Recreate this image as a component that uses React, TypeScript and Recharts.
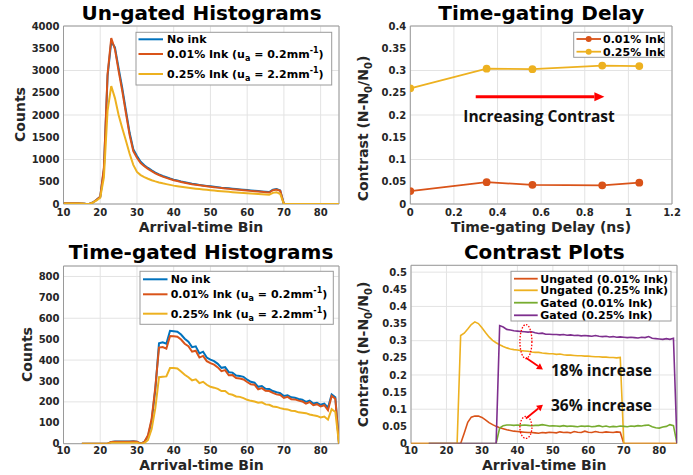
import React from 'react';
import { LineChart, Line, XAxis, YAxis, CartesianGrid, ReferenceArea, ReferenceLine, ReferenceDot } from 'recharts';

// ---------- colours ----------
const BLUE = '#0072BD';
const ORANGE = '#D95319';
const YELLOW = '#EDB120';
const GREEN = '#77AC30';
const PURPLE = '#7E2F8E';

// ---------- Panel 1: Un-gated histograms (bins 10..85) ----------
const ungatedBins = [10, 11, 12, 13, 14, 15, 16, 17, 18, 19, 20, 21, 22, 23, 24, 25, 26, 27, 28, 29, 30, 31, 32, 33, 34, 35, 36, 37, 38, 39, 40, 41, 42, 43, 44, 45, 46, 47, 48, 49, 50, 51, 52, 53, 54, 55, 56, 57, 58, 59, 60, 61, 62, 63, 64, 65, 66, 67, 68, 69, 70, 71, 72, 73, 74, 75, 76, 77, 78, 79, 80, 81, 82, 83, 84, 85];
const ungatedNoInk = [15, 15, 15, 15, 15, 12, 3, 0, 35, 95, 160, 780, 2880, 3650, 3520, 3050, 2600, 2100, 1600, 1230, 1080, 950, 870, 810, 755, 705, 665, 630, 600, 572, 548, 528, 508, 490, 472, 455, 442, 430, 418, 407, 397, 387, 378, 368, 360, 352, 344, 336, 328, 320, 312, 305, 298, 290, 282, 275, 268, 322, 335, 305, 0, 0, 0, 0, 0, 0, 0, 0, 0, 0, 0, 0, 0, 0, 0, 0];
const ungatedInk001 = [15, 15, 15, 15, 15, 12, 3, 0, 35, 95, 165, 820, 2920, 3730, 3480, 2990, 2540, 2040, 1550, 1190, 1040, 920, 850, 790, 738, 690, 652, 615, 588, 560, 535, 515, 496, 478, 461, 445, 432, 420, 408, 397, 387, 378, 368, 359, 350, 342, 334, 326, 318, 310, 302, 295, 288, 281, 273, 266, 258, 310, 325, 295, 0, 0, 0, 0, 0, 0, 0, 0, 0, 0, 0, 0, 0, 0, 0, 0];
const ungatedInk025 = [12, 12, 12, 12, 12, 10, 2, 0, 30, 80, 140, 600, 2100, 2650, 2380, 2000, 1700, 1420, 1130, 880, 720, 650, 605, 568, 535, 508, 485, 465, 447, 430, 413, 400, 388, 377, 366, 355, 345, 336, 327, 318, 310, 302, 294, 287, 280, 273, 266, 260, 254, 248, 242, 237, 232, 227, 221, 215, 208, 250, 265, 225, 0, 0, 0, 0, 0, 0, 0, 0, 0, 0, 0, 0, 0, 0, 0, 0];

// ---------- Panel 2: Time-gating delay ----------
const delaysNs = [0, 0.35, 0.56, 0.88, 1.05];
const delayContrast001 = [0.029, 0.049, 0.043, 0.042, 0.048];
const delayContrast025 = [0.26, 0.304, 0.303, 0.311, 0.31];

// ---------- Panel 3: Time-gated histograms (bins 15..85) ----------
const gatedBins = [15, 16, 17, 18, 19, 20, 21, 22, 23, 24, 25, 26, 27, 28, 29, 30, 31, 32, 33, 34, 35, 36, 37, 38, 39, 40, 41, 42, 43, 44, 45, 46, 47, 48, 49, 50, 51, 52, 53, 54, 55, 56, 57, 58, 59, 60, 61, 62, 63, 64, 65, 66, 67, 68, 69, 70, 71, 72, 73, 74, 75, 76, 77, 78, 79, 80, 81, 82, 83, 84, 85];
const gatedNoInk = [0, 0, 0, 0, 0, 0, 0, 0, 8, 10, 10, 10, 10, 10, 12, 10, 0, 8, 35, 110, 260, 480, 485, 478, 540, 538, 536, 522, 502, 488, 462, 466, 432, 440, 412, 402, 395, 382, 363, 366, 342, 340, 326, 324, 320, 306, 296, 292, 272, 276, 263, 262, 252, 246, 242, 228, 232, 222, 220, 214, 210, 200, 206, 192, 196, 186, 192, 172, 236, 222, 0];
const gatedInk001 = [0, 0, 0, 0, 0, 0, 0, 0, 8, 9, 9, 9, 9, 9, 10, 9, 0, 8, 40, 120, 270, 460, 462, 455, 515, 514, 512, 498, 478, 466, 440, 445, 412, 420, 395, 385, 378, 365, 347, 352, 327, 328, 314, 312, 307, 295, 284, 282, 260, 266, 253, 252, 243, 236, 233, 219, 224, 213, 212, 206, 202, 192, 199, 184, 189, 178, 184, 160, 228, 215, 0];
const gatedInk025 = [0, 0, 0, 0, 0, 0, 0, 0, 5, 5, 5, 5, 5, 5, 5, 5, 0, 3, 18, 70, 170, 318, 320, 322, 362, 362, 360, 345, 330, 318, 303, 308, 290, 296, 282, 272, 268, 262, 252, 252, 238, 234, 226, 224, 218, 210, 205, 202, 196, 198, 188, 186, 178, 176, 170, 166, 164, 158, 156, 150, 148, 146, 140, 136, 133, 126, 130, 115, 165, 152, 0];

// ---------- Panel 4: Contrast plots (bins 10..85) ----------
const contrastBins = ungatedBins;
const ungatedContrast001 = [0, 0, 0, 0, 0, 0, 0, 0, 0, 0, 0, 0, 0, 0, 0, 0.03, 0.062, 0.077, 0.08, 0.08, 0.076, 0.069, 0.061, 0.055, 0.05, 0.046, 0.043, 0.04, 0.038, 0.036, 0.035, 0.034, 0.033, 0.032, 0.032, 0.031, 0.03, 0.032, 0.031, 0.033, 0.032, 0.031, 0.034, 0.032, 0.033, 0.031, 0.035, 0.033, 0.032, 0.036, 0.033, 0.032, 0.035, 0.033, 0.032, 0.034, 0.033, 0.032, 0.034, 0.033, 0, 0, 0, 0, 0, 0, 0, 0, 0, 0, 0, 0, 0, 0, 0, 0];
const ungatedContrast025 = [0, 0, 0, 0, 0, 0, 0, 0, 0, 0, 0, 0, 0, 0, 0.315, 0.322, 0.334, 0.347, 0.355, 0.35, 0.338, 0.324, 0.311, 0.301, 0.294, 0.288, 0.283, 0.279, 0.276, 0.274, 0.273, 0.271, 0.27, 0.269, 0.267, 0.266, 0.266, 0.264, 0.263, 0.262, 0.262, 0.26, 0.261, 0.259, 0.258, 0.258, 0.257, 0.256, 0.256, 0.255, 0.255, 0.254, 0.253, 0.253, 0.252, 0.252, 0.251, 0.251, 0.25, 0.251, 0, 0, 0, 0, 0, 0, 0, 0, 0, 0, 0, 0, 0, 0, 0, 0];
const gatedContrast001 = [null, null, null, null, null, 0, 0, 0, 0, 0, 0, 0, 0, 0, 0, 0, 0, 0, 0, 0, 0, 0, 0, 0, 0, 0.045, 0.052, 0.054, 0.054, 0.053, 0.054, 0.053, 0.054, 0.053, 0.052, 0.053, 0.053, 0.055, 0.053, 0.051, 0.052, 0.051, 0.05, 0.052, 0.05, 0.051, 0.05, 0.049, 0.051, 0.05, 0.051, 0.049, 0.05, 0.052, 0.049, 0.051, 0.048, 0.05, 0.049, 0.051, 0.05, 0.049, 0.051, 0.05, 0.052, 0.051, 0.053, 0.054, 0.049, 0.046, 0.045, 0.048, 0.05, 0.055, 0.052, 0];
const gatedContrast025 = [null, null, null, null, null, 0, 0, 0, 0, 0, 0, 0, 0, 0, 0, 0, 0, 0, 0, 0, 0, 0, 0, 0, 0, 0.344, 0.34, 0.333, 0.331, 0.329, 0.328, 0.327, 0.326, 0.325, 0.326, 0.323, 0.321, 0.322, 0.319, 0.319, 0.318, 0.318, 0.317, 0.318, 0.316, 0.317, 0.315, 0.316, 0.314, 0.315, 0.314, 0.313, 0.315, 0.313, 0.312, 0.313, 0.311, 0.312, 0.31, 0.311, 0.31, 0.309, 0.31, 0.309, 0.308, 0.31, 0.309, 0.312, 0.307, 0.306, 0.305, 0.304, 0.306, 0.304, 0.307, 0];

// ---------- ticks ----------
const binTicks = [10, 20, 30, 40, 50, 60, 70, 80];
const countTicks1 = [0, 500, 1000, 1500, 2000, 2500, 3000, 3500, 4000];
const countTicks3 = [0, 100, 200, 300, 400, 500, 600, 700, 800];
const delayTicks = [0, 0.2, 0.4, 0.6, 0.8, 1, 1.2];
const contrastTicks2 = [0, 0.05, 0.1, 0.15, 0.2, 0.25, 0.3, 0.35, 0.4];
const contrastTicks4 = [0, 0.05, 0.1, 0.15, 0.2, 0.25, 0.3, 0.35, 0.4, 0.45, 0.5];

// ---------- tables ----------
const rows1 = ungatedBins.map((b, i) => ({ bin: b, noInk: ungatedNoInk[i], ink001: ungatedInk001[i], ink025: ungatedInk025[i] }));
const rows2 = delaysNs.map((d, i) => ({ delay: d, c001: delayContrast001[i], c025: delayContrast025[i] }));
const rows3 = gatedBins.map((b, i) => ({ bin: b, noInk: gatedNoInk[i], ink001: gatedInk001[i], ink025: gatedInk025[i] }));
const rows4 = contrastBins.map((b, i) => ({ bin: b, u001: ungatedContrast001[i], u025: ungatedContrast025[i], g001: gatedContrast001[i], g025: gatedContrast025[i] }));

const FONT = '"DejaVu Sans", Verdana, sans-serif';
const ANN_FONT = '"Open Sans", "Liberation Sans", sans-serif';
const tickStyle = { fill: '#262626', fontSize: 10, fontWeight: 700, fontFamily: FONT };
const GRID = '#e3e3e3';
const BOX = '#9a9a9a';

const Arrow = (p: any) => {
  const { x1, y1, x2, y2 } = p;
  const ang = Math.atan2(y2 - y1, x2 - x1);
  const L = p.head || 10;
  const W = p.headW || 4;
  const bx = x2 - L * Math.cos(ang);
  const by = y2 - L * Math.sin(ang);
  const px = -Math.sin(ang) * W;
  const py = Math.cos(ang) * W;
  return (
    <g>
      <line x1={x1} y1={y1} x2={bx} y2={by} stroke="#ff0000" strokeWidth={p.sw || 3} />
      <polygon points={`${x2},${y2} ${bx + px},${by + py} ${bx - px},${by - py}`} fill="#ff0000" />
    </g>
  );
};

const Ellipse = (rx: number, ry: number) => (p: any) => (
  <ellipse cx={p.cx} cy={p.cy} rx={rx} ry={ry} fill="none" stroke="#ff0000" strokeWidth={1.3} strokeDasharray="1.5 1.5" />
);

function Panel1() {
  return (
    <div style={{ position: 'absolute', left: 0, top: 0 }}>
      <LineChart width={346} height={237} data={rows1} margin={{ top: 26, right: 7, bottom: 0, left: 0 }}>
        <CartesianGrid stroke={GRID} />
        <XAxis type="number" dataKey="bin" domain={[10, 85]} ticks={binTicks} height={33} tick={tickStyle} tickSize={0} tickMargin={5} axisLine={false} allowDataOverflow />
        <YAxis type="number" domain={[0, 4000]} ticks={countTicks1} width={63.5} tick={tickStyle} tickSize={0} tickMargin={4} axisLine={false} allowDataOverflow />
        <ReferenceArea x1={10} x2={85} y1={0} y2={4000} fill="none" stroke={BOX} strokeWidth={1} />
        <Line dataKey="noInk" stroke={BLUE} strokeWidth={2} dot={false} isAnimationActive={false} />
        <Line dataKey="ink001" stroke={ORANGE} strokeWidth={2} dot={false} isAnimationActive={false} />
        <Line dataKey="ink025" stroke={YELLOW} strokeWidth={2} dot={false} isAnimationActive={false} />
      </LineChart>
    </div>
  );
}

function Panel2() {
  return (
    <div style={{ position: 'absolute', left: 346, top: 0 }}>
      <LineChart width={347} height={237} data={rows2} margin={{ top: 26, right: 21, bottom: 0, left: 0 }}>
        <CartesianGrid stroke={GRID} />
        <XAxis type="number" dataKey="delay" domain={[0, 1.2]} ticks={delayTicks} height={33} tick={tickStyle} tickSize={0} tickMargin={5} axisLine={false} allowDataOverflow />
        <YAxis type="number" domain={[0, 0.4]} ticks={contrastTicks2} width={64.3} tick={tickStyle} tickSize={0} tickMargin={4} axisLine={false} allowDataOverflow />
        <ReferenceArea x1={0} x2={1.2} y1={0} y2={0.4} fill="none" stroke={BOX} strokeWidth={1} />
        <Line dataKey="c001" stroke={ORANGE} strokeWidth={1.8} dot={{ r: 3, fill: ORANGE, stroke: ORANGE }} isAnimationActive={false} />
        <Line dataKey="c025" stroke={YELLOW} strokeWidth={1.8} dot={{ r: 3, fill: YELLOW, stroke: YELLOW }} isAnimationActive={false} />
        <ReferenceLine segment={[{ x: 0.3, y: 0.241 }, { x: 0.89, y: 0.241 }]} shape={(p: any) => <Arrow {...p} head={10} headW={4.5} sw={3} />} />
      </LineChart>
    </div>
  );
}

function Panel3() {
  return (
    <div style={{ position: 'absolute', left: 0, top: 237 }}>
      <LineChart width={346} height={238} data={rows3} margin={{ top: 29, right: 7, bottom: 0, left: 0 }}>
        <CartesianGrid stroke={GRID} />
        <XAxis type="number" dataKey="bin" domain={[10, 85]} ticks={binTicks} height={31.3} tick={tickStyle} tickSize={0} tickMargin={3} axisLine={false} allowDataOverflow />
        <YAxis type="number" domain={[0, 850]} ticks={countTicks3} width={63.5} tick={tickStyle} tickSize={0} tickMargin={4} axisLine={false} allowDataOverflow />
        <ReferenceArea x1={10} x2={85} y1={0} y2={850} fill="none" stroke={BOX} strokeWidth={1} />
        <Line dataKey="noInk" stroke={BLUE} strokeWidth={2} dot={false} isAnimationActive={false} />
        <Line dataKey="ink001" stroke={ORANGE} strokeWidth={2} dot={false} isAnimationActive={false} />
        <Line dataKey="ink025" stroke={YELLOW} strokeWidth={2} dot={false} isAnimationActive={false} />
      </LineChart>
    </div>
  );
}

function Panel4() {
  return (
    <div style={{ position: 'absolute', left: 346, top: 237 }}>
      <LineChart width={347} height={238} data={rows4} margin={{ top: 28.3, right: 16, bottom: 0, left: 0 }}>
        <CartesianGrid stroke={GRID} />
        <XAxis type="number" dataKey="bin" domain={[10, 85]} ticks={binTicks} height={31.5} tick={tickStyle} tickSize={0} tickMargin={3} axisLine={false} allowDataOverflow />
        <YAxis type="number" domain={[0, 0.52]} ticks={contrastTicks4} width={65} tick={tickStyle} tickSize={0} tickMargin={4} axisLine={false} allowDataOverflow />
        <ReferenceArea x1={10} x2={85} y1={0} y2={0.52} fill="none" stroke={BOX} strokeWidth={1} />
        <Line dataKey="u001" stroke={ORANGE} strokeWidth={1.6} dot={false} isAnimationActive={false} />
        <Line dataKey="u025" stroke={YELLOW} strokeWidth={1.6} dot={false} isAnimationActive={false} />
        <Line dataKey="g001" stroke={GREEN} strokeWidth={1.6} dot={false} isAnimationActive={false} />
        <Line dataKey="g025" stroke={PURPLE} strokeWidth={1.6} dot={false} isAnimationActive={false} />
        <ReferenceDot x={42.4} y={0.2975} r={1} shape={Ellipse(6, 17)} />
        <ReferenceDot x={42.4} y={0.047} r={1} shape={Ellipse(6, 11)} />
        <ReferenceLine segment={[{ x: 42.4, y: 0.25 }, { x: 47.2, y: 0.216 }]} shape={(p: any) => <Arrow {...p} head={6} headW={3.5} sw={1.8} />} />
        <ReferenceLine segment={[{ x: 42.4, y: 0.073 }, { x: 47.2, y: 0.113 }]} shape={(p: any) => <Arrow {...p} head={6} headW={3.5} sw={1.8} />} />
      </LineChart>
    </div>
  );
}

const titleStyle: any = { fontFamily: FONT, fontWeight: 700, fontSize: 20, fill: '#000', textAnchor: 'middle' };
const axisLabelStyle: any = { fontFamily: FONT, fontWeight: 700, fontSize: 14, fill: '#262626', textAnchor: 'middle' };
const legendText: any = { fontFamily: FONT, fontWeight: 700, fontSize: 11, fill: '#000' };
const annStyle: any = { fontFamily: ANN_FONT, fontWeight: 700, fontSize: 15.5, fill: '#111' };

const InkLabel = ({ pct, ua }: { pct: string; ua: string }) => (
  <>
    <tspan>{pct}% Ink (u</tspan>
    <tspan dy={3} fontSize={8}>a</tspan>
    <tspan dy={-3}> = {ua}mm</tspan>
    <tspan dy={-5} fontSize={8}>-1</tspan>
    <tspan dy={5}>)</tspan>
  </>
);

const histLegend = [
  { color: BLUE, text: 'No ink' },
  { color: ORANGE, pct: '0.01', ua: '0.2' },
  { color: YELLOW, pct: '0.25', ua: '2.2' },
];

function HistLegend({ x, y, w, h, rows, lineX1, lineX2, textX }: any) {
  return (
    <g>
      <rect x={x} y={y} width={w} height={h} fill="#fff" stroke={BOX} strokeWidth={1} />
      {histLegend.map((it: any, i: number) => (
        <g key={i}>
          <line x1={lineX1} x2={lineX2} y1={rows[i]} y2={rows[i]} stroke={it.color} strokeWidth={2} />
          <text x={textX} y={rows[i] + 4} style={legendText}>
            {it.text ? it.text : <InkLabel pct={it.pct} ua={it.ua} />}
          </text>
        </g>
      ))}
    </g>
  );
}

const delayLegend = [
  { color: ORANGE, text: '0.01% Ink' },
  { color: YELLOW, text: '0.25% Ink' },
];
const contrastLegend = [
  { color: ORANGE, text: 'Ungated (0.01% Ink)' },
  { color: YELLOW, text: 'Ungated (0.25% Ink)' },
  { color: GREEN, text: 'Gated (0.01% Ink)' },
  { color: PURPLE, text: 'Gated (0.25% Ink)' },
];

const ContrastLabel = ({ x, y }: { x: number; y: number }) => (
  <text x={x} y={y} transform={`rotate(-90, ${x}, ${y})`} style={axisLabelStyle}>
    <tspan>Contrast (N-N</tspan>
    <tspan dy={4} fontSize={10}>0</tspan>
    <tspan dy={-4}>/N</tspan>
    <tspan dy={4} fontSize={10}>0</tspan>
    <tspan dy={-4}>)</tspan>
  </text>
);

function Overlay() {
  return (
    <svg width={693} height={475} style={{ position: 'absolute', left: 0, top: 0, pointerEvents: 'none' }}>
      {/* titles */}
      <text x={201.5} y={19.5} style={titleStyle}>Un-gated Histograms</text>
      <text x={541.3} y={19.5} style={titleStyle}>Time-gating Delay</text>
      <text x={201} y={258.7} style={titleStyle}>Time-gated Histograms</text>
      <text x={544.3} y={258.7} style={titleStyle}>Contrast Plots</text>
      {/* axis labels */}
      <text x={201} y={231.5} style={axisLabelStyle}>Arrival-time Bin</text>
      <text x={541} y={231.5} style={axisLabelStyle}>Time-gating Delay (ns)</text>
      <text x={201.5} y={470} style={axisLabelStyle}>Arrival-time Bin</text>
      <text x={544.3} y={470} style={axisLabelStyle}>Arrival-time Bin</text>
      <text x={25} y={114.5} transform="rotate(-90, 25, 114.5)" style={axisLabelStyle}>Counts</text>
      <text x={32} y={354.5} transform="rotate(-90, 32, 354.5)" style={axisLabelStyle}>Counts</text>
      <ContrastLabel x={368} y={128.5} />
      <ContrastLabel x={368} y={354.5} />
      {/* legends */}
      <HistLegend x={136} y={32.3} w={195.7} h={52.7} rows={[39.3, 54, 74]} lineX1={138.5} lineX2={163} textX={167} />
      <HistLegend x={140} y={271.3} w={193.3} h={53} rows={[279.3, 294.3, 313.7]} lineX1={143} lineX2={167.5} textX={170.7} />
      <g>
        <rect x={573.7} y={32.3} width={90.6} height={25} fill="#fff" stroke={BOX} strokeWidth={1} />
        {delayLegend.map((it, i) => {
          const yy = [39, 51.7][i];
          return (
            <g key={i}>
              <line x1={576.5} x2={601} y1={yy} y2={yy} stroke={it.color} strokeWidth={1.8} />
              <circle cx={588.7} cy={yy} r={3} fill={it.color} />
              <text x={603} y={yy + 4} style={legendText}>{it.text}</text>
            </g>
          );
        })}
      </g>
      <g>
        <rect x={511} y={271.3} width={160} height={49.7} fill="#fff" stroke={BOX} strokeWidth={1} />
        {contrastLegend.map((it, i) => {
          const yy = [278.7, 290.3, 302.7, 315.3][i];
          return (
            <g key={i}>
              <line x1={514} x2={537.7} y1={yy} y2={yy} stroke={it.color} strokeWidth={1.8} />
              <text x={540.3} y={yy + 4} style={legendText}>{it.text}</text>
            </g>
          );
        })}
      </g>
      {/* annotations */}
      <text x={539} y={121.7} style={{ ...annStyle, textAnchor: 'middle' }}>Increasing Contrast</text>
      <text x={551} y={375.5} style={annStyle}>18% increase</text>
      <text x={551} y={411} style={annStyle}>36% increase</text>
    </svg>
  );
}

export default function App() {
  return (
    <div style={{ position: 'absolute', left: 0, top: 0, width: 693, height: 475, background: '#fff', overflow: 'hidden' }}>
      <Panel1 />
      <Panel2 />
      <Panel3 />
      <Panel4 />
      <Overlay />
    </div>
  );
}
